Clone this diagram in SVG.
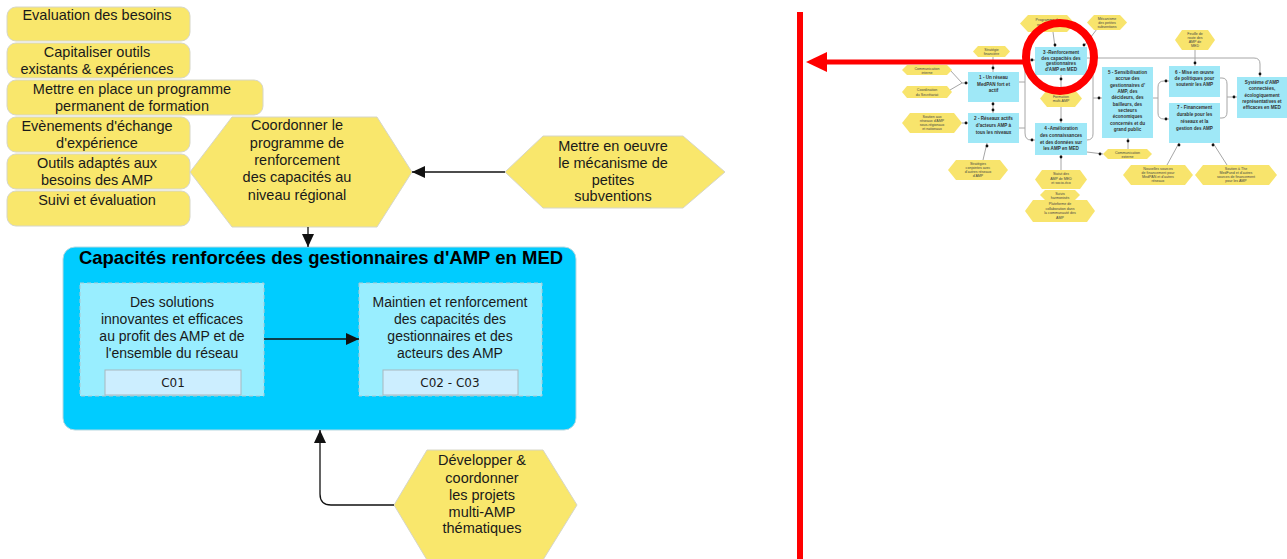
<svg xmlns="http://www.w3.org/2000/svg" width="1287" height="559" viewBox="0 0 1287 559">
<style>
.y{fill:#f9e76c;stroke:#d6d6c8;stroke-width:1}
.t{font-family:"Liberation Sans",Arial,sans-serif;font-size:14.5px;fill:#1a1a1a;text-anchor:middle}
.ti{font-size:14px}
.lb{font-family:"DejaVu Sans",Verdana,sans-serif;font-size:12px;fill:#1a1a1a;text-anchor:middle}
.ln{stroke:#111;stroke-width:1.3;fill:none}
.tb{fill:#9fe8f7}
.th{fill:#f8e46c}
.tl{stroke:#a6a6a6;stroke-width:1;fill:none}
.tt{font-family:"Liberation Sans",Arial,sans-serif;font-size:3.6px;fill:#444;text-anchor:middle}
.tx{font-family:"Liberation Sans",Arial,sans-serif;font-size:4.6px;font-weight:bold;fill:#333;text-anchor:middle}
.dot{fill:#111}
.red{stroke:#ff0000;fill:none}
</style>
<defs>
<marker id="ah" markerUnits="userSpaceOnUse" markerWidth="14" markerHeight="12" refX="13" refY="6" orient="auto">
<path d="M0,0 L13,6 L0,12 z" fill="#111"/>
</marker>
</defs>
<rect width="1287" height="559" fill="#ffffff"/>

<!-- list boxes -->
<g id="n-evaluation"><rect class="y" x="7" y="7" width="183" height="34" rx="9"/><text class="t" x="97" y="20">Evaluation des besoins</text></g>
<g id="n-capitaliser"><rect class="y" x="7" y="43" width="183" height="35" rx="9"/><text class="t" x="97" y="57">Capitaliser outils</text><text class="t" x="97" y="74">existants &amp; expériences</text></g>
<g id="n-programme"><rect class="y" x="7" y="80" width="256" height="35" rx="9"/><text class="t" x="132" y="94">Mettre en place un programme</text><text class="t" x="132" y="111">permanent de formation</text></g>
<g id="n-evenements"><rect class="y" x="7" y="117" width="183" height="35" rx="9"/><text class="t" x="97" y="131">Evènements d'échange</text><text class="t" x="97" y="148">d'expérience</text></g>
<g id="n-outils"><rect class="y" x="7" y="154" width="183" height="35" rx="9"/><text class="t" x="97" y="168">Outils adaptés aux</text><text class="t" x="97" y="185">besoins des AMP</text></g>
<g id="n-suivi"><rect class="y" x="7" y="191" width="183" height="35" rx="9"/><text class="t" x="97" y="205">Suivi et évaluation</text></g>

<!-- hexagons -->
<g id="n-coordonner"><polygon class="y" points="190,172 232,117 377,117 412,172 377,227 232,227"/>
<text class="t" x="297" y="130">Coordonner le</text><text class="t" x="297" y="148">programme de</text><text class="t" x="297" y="165">renforcement</text><text class="t" x="297" y="182">des capacités au</text><text class="t" x="297" y="200">niveau régional</text></g>
<g id="n-subventions"><polygon class="y" points="505,172 543,136 683,136 725,172 683,208 543,208"/>
<text class="t" x="613" y="151">Mettre en oeuvre</text><text class="t" x="613" y="168">le mécanisme de</text><text class="t" x="613" y="185">petites</text><text class="t" x="613" y="201">subventions</text></g>
<g id="n-developper"><polygon class="y" points="394,505 427,450 543,450 577,505 543,560 427,560"/>
<text class="t" x="482" y="465">Développer &amp;</text><text class="t" x="482" y="483">coordonner</text><text class="t" x="482" y="500">les projets</text><text class="t" x="482" y="517">multi-AMP</text><text class="t" x="482" y="533">thématiques</text></g>

<!-- main container -->
<g id="n-capacites">
<rect x="63" y="247" width="513" height="183" rx="12" fill="#00ccff" stroke="#b8d8e0" stroke-width="1"/>
<text class="t" x="321" y="264" style="font-size:18.5px;font-weight:bold;fill:#000">Capacités renforcées des gestionnaires d'AMP en MED</text>
</g>
<g id="n-solutions">
<rect x="80" y="283" width="184" height="113" fill="#99eeff" stroke="#b0c8d0" stroke-dasharray="4,3"/>
<text class="t ti" x="172" y="307">Des solutions</text><text class="t ti" x="172" y="324">innovantes et efficaces</text><text class="t ti" x="172" y="341">au profit des AMP et de</text><text class="t ti" x="172" y="358">l'ensemble du réseau</text>
<rect x="105" y="370" width="136" height="25" fill="#cceeff" stroke="#a8b8c0"/>
<text class="lb" x="173" y="387">C01</text>
</g>
<g id="n-maintien">
<rect x="359" y="283" width="183" height="113" fill="#99eeff" stroke="#b0c8d0" stroke-dasharray="4,3"/>
<text class="t ti" x="450" y="307">Maintien et renforcement</text><text class="t ti" x="450" y="324">des capacités des</text><text class="t ti" x="450" y="341">gestionnaires et des</text><text class="t ti" x="450" y="358">acteurs des AMP</text>
<rect x="383" y="370" width="135" height="25" fill="#cceeff" stroke="#a8b8c0"/>
<text class="lb" x="450" y="387">C02 - C03</text>
</g>

<!-- connectors -->
<g id="connectors">
<line class="ln" x1="505" y1="172" x2="412" y2="172" marker-end="url(#ah)"/>
<line class="ln" x1="308" y1="227" x2="308" y2="247" marker-end="url(#ah)"/>
<line class="ln" x1="264" y1="339" x2="359" y2="339" marker-end="url(#ah)"/>
<path class="ln" d="M394,505 H331 Q320,505 320,494 V430" marker-end="url(#ah)"/>
</g>

<!-- thumbnail overview -->
<g id="thumbnail">
<g id="thumb-connectors">
<path class="tl" d="M1053,32 L1055,47 M1097,29 L1084,46 M993,57 V72 M950,70 L962,83 H968 M950,90 L962,83 M993,102 V113 M962,123 H968 M983,160 L987,143"/>
<path class="tl" d="M1019,82 H1025 M1019,128 H1025 M1025,133 V66 Q1025,60 1031,60 H1035 M1025,133 Q1025,140 1031,140 H1035"/>
<path class="tl" d="M1061,90 V75 M1061,107 V123 M1087,58 H1254 Q1260,58 1260,64 V77 M1195,50 V66"/>
<path class="tl" d="M1093,58 V134 Q1093,140 1087,140 M1093,98 H1102"/>
<path class="tl" d="M1153,98 H1158 M1158,113 V87 Q1158,81 1164,81 H1169 M1158,113 Q1158,119 1164,119 H1169"/>
<path class="tl" d="M1220,78 H1222 Q1227,78 1227,84 V112 Q1227,118 1222,118 H1220 M1227,97 H1237"/>
<path class="tl" d="M1128,149 V138 M1087,152 L1103,154 M1061,170 V155 M1167,165 L1179,143 M1227,165 L1213,143"/>
<circle class="dot" cx="1055" cy="45" r="1.4"/><circle class="dot" cx="1084" cy="45" r="1.4"/><circle class="dot" cx="993" cy="68" r="1.4"/>
<circle class="dot" cx="966" cy="83" r="1.4"/><circle class="dot" cx="993" cy="104" r="1.4"/><circle class="dot" cx="993" cy="110" r="1.4"/>
<circle class="dot" cx="966" cy="123" r="1.4"/><circle class="dot" cx="987" cy="146" r="1.4"/><circle class="dot" cx="1032" cy="60" r="1.4"/>
<circle class="dot" cx="1032" cy="140" r="1.4"/><circle class="dot" cx="1061" cy="79" r="1.4"/><circle class="dot" cx="1061" cy="120" r="1.4"/>
<circle class="dot" cx="1260" cy="74" r="1.4"/><circle class="dot" cx="1195" cy="63" r="1.4"/><circle class="dot" cx="1099" cy="98" r="1.4"/>
<circle class="dot" cx="1166" cy="81" r="1.4"/><circle class="dot" cx="1166" cy="119" r="1.4"/><circle class="dot" cx="1234" cy="97" r="1.4"/>
<circle class="dot" cx="1128" cy="141" r="1.4"/><circle class="dot" cx="1100" cy="154" r="1.4"/><circle class="dot" cx="1061" cy="157" r="1.4"/>
<circle class="dot" cx="1179" cy="145" r="1.4"/><circle class="dot" cx="1213" cy="145" r="1.4"/>
</g>
<g id="thumb-b1"><rect class="tb" x="968" y="72" width="51" height="30"/><text class="tx" x="993.5" y="79">1 - Un réseau</text><text class="tx" x="993.5" y="85.5">MedPAN fort et</text><text class="tx" x="993.5" y="92">actif</text></g>
<g id="thumb-b2"><rect class="tb" x="968" y="113" width="51" height="30"/><text class="tx" x="993.5" y="120">2 - Réseaux actifs</text><text class="tx" x="993.5" y="127">d'acteurs AMP à</text><text class="tx" x="993.5" y="134">tous les niveaux</text></g>
<g id="thumb-b3"><rect class="tb" x="1035" y="47" width="52" height="28"/><text class="tx" x="1061" y="54">3 -Renforcement</text><text class="tx" x="1061" y="59.5">des capacités des</text><text class="tx" x="1061" y="65">gestionnaires</text><text class="tx" x="1061" y="71">d'AMP en MED</text></g>
<g id="thumb-b4"><rect class="tb" x="1035" y="123" width="52" height="32"/><text class="tx" x="1061" y="130">4 -Amélioration</text><text class="tx" x="1061" y="137">des connaissances</text><text class="tx" x="1061" y="144">et des données sur</text><text class="tx" x="1061" y="150">les AMP en MED</text></g>
<g id="thumb-b5"><rect class="tb" x="1102" y="67" width="51" height="71"/>
<text class="tx" x="1127.5" y="74">5 - Sensibilisation</text><text class="tx" x="1127.5" y="80.3">accrue des</text><text class="tx" x="1127.5" y="86.6">gestionnaires d'</text><text class="tx" x="1127.5" y="93">AMP, des</text><text class="tx" x="1127.5" y="99.3">décideurs, des</text><text class="tx" x="1127.5" y="105.6">bailleurs, des</text><text class="tx" x="1127.5" y="112">secteurs</text><text class="tx" x="1127.5" y="118.3">économiques</text><text class="tx" x="1127.5" y="124.6">concernés et du</text><text class="tx" x="1127.5" y="131">grand public</text></g>
<g id="thumb-b6"><rect class="tb" x="1169" y="66" width="51" height="31"/><text class="tx" x="1194.5" y="74">6 - Mise en œuvre</text><text class="tx" x="1194.5" y="80">de politiques pour</text><text class="tx" x="1194.5" y="86">soutenir les AMP</text></g>
<g id="thumb-b7"><rect class="tb" x="1169" y="103" width="51" height="40"/><text class="tx" x="1194.5" y="109">7 - Financement</text><text class="tx" x="1194.5" y="116">durable pour les</text><text class="tx" x="1194.5" y="123">réseaux et la</text><text class="tx" x="1194.5" y="130">gestion des AMP</text></g>
<g id="thumb-sys"><rect class="tb" x="1237" y="77" width="50" height="41"/><text class="tx" x="1262" y="84">Système d'AMP</text><text class="tx" x="1262" y="90">connectées,</text><text class="tx" x="1262" y="97">écologiquement</text><text class="tx" x="1262" y="103">représentatives et</text><text class="tx" x="1262" y="109">efficaces en MED</text></g>

<g id="thumb-h1"><polygon class="th" points="1020,23.5 1028,15 1067,15 1075,23.5 1067,32 1028,32"/><text class="tt" x="1047.5" y="21">Programme de</text><text class="tt" x="1047.5" y="26">renforcement</text></g>
<g id="thumb-h2"><polygon class="th" points="1087,22.5 1094,15 1120,15 1127,22.5 1120,30 1094,30"/><text class="tt" x="1107" y="19.5">Mécanisme</text><text class="tt" x="1107" y="23.5">des petites</text><text class="tt" x="1107" y="27.5">subventions</text></g>
<g id="thumb-h3"><polygon class="th" points="973,51.5 978,46 1005,46 1010,51.5 1005,57 978,57"/><text class="tt" x="991.5" y="50.5">Stratégie</text><text class="tt" x="991.5" y="55">financière</text></g>
<g id="thumb-h4"><polygon class="th" points="902,70 907,65 947,65 952,70 947,75 907,75"/><text class="tt" x="927" y="69.5">Communication</text><text class="tt" x="927" y="73.5">interne</text></g>
<g id="thumb-h5"><polygon class="th" points="902,92 907,86 947,86 952,92 947,98 907,98"/><text class="tt" x="927" y="91">Coordination</text><text class="tt" x="927" y="95.5">du Secrétariat</text></g>
<g id="thumb-h6"><polygon class="th" points="1040,98.5 1047,90 1075,90 1082,98.5 1075,107 1047,107"/><text class="tt" x="1061" y="97.5">Formation</text><text class="tt" x="1061" y="102">multi-AMP</text></g>
<g id="thumb-h7"><polygon class="th" points="1175,40 1182,30 1208,30 1215,40 1208,50 1182,50"/><text class="tt" x="1195" y="35">Feuille de</text><text class="tt" x="1195" y="39">route des</text><text class="tt" x="1195" y="43">AMP de</text><text class="tt" x="1195" y="47">MED</text></g>
<g id="thumb-h8"><polygon class="th" points="902,123 910,113 954,113 962,123 954,133 910,133"/><text class="tt" x="932" y="118">Soutien aux</text><text class="tt" x="932" y="122">réseaux d'AMP</text><text class="tt" x="932" y="126">sous-régionaux</text><text class="tt" x="932" y="130">et nationaux</text></g>
<g id="thumb-h9"><polygon class="th" points="948,170 956,160 1000,160 1008,170 1000,180 956,180"/><text class="tt" x="978" y="165">Stratégies</text><text class="tt" x="978" y="169">conjointes avec</text><text class="tt" x="978" y="173">d'autres réseaux</text><text class="tt" x="978" y="177">d'AMP</text></g>
<g id="thumb-h10"><polygon class="th" points="1103,154 1108,149 1147,149 1152,154 1147,159 1108,159"/><text class="tt" x="1127.5" y="153.5">Communication</text><text class="tt" x="1127.5" y="157.5">externe</text></g>
<g id="thumb-h11"><polygon class="th" points="1035,179.5 1042,170 1080,170 1087,179.5 1080,189 1042,189"/><text class="tt" x="1061" y="175">Statut des</text><text class="tt" x="1061" y="179.5">AMP de MED</text><text class="tt" x="1061" y="184">et socio-éco</text></g>
<g id="thumb-h12"><polygon class="th" points="1040,195 1045,190 1075,190 1080,195 1075,200 1045,200"/><text class="tt" x="1060" y="194.5">Suivis</text><text class="tt" x="1060" y="198.5">harmonisés</text></g>
<g id="thumb-h13"><polygon class="th" points="1025,211 1033,200 1087,200 1095,211 1087,222 1033,222"/><text class="tt" x="1060" y="205">Plateforme de</text><text class="tt" x="1060" y="209.5">collaboration dans</text><text class="tt" x="1060" y="214">la communauté des</text><text class="tt" x="1060" y="218.5">AMP</text></g>
<g id="thumb-h14"><polygon class="th" points="1123,175 1131,165 1185,165 1193,175 1185,185 1131,185"/><text class="tt" x="1158" y="170">Nouvelles sources</text><text class="tt" x="1158" y="174">de financement pour</text><text class="tt" x="1158" y="178">MedPAN et d'autres</text><text class="tt" x="1158" y="182">réseaux</text></g>
<g id="thumb-h15"><polygon class="th" points="1195,175 1203,165 1269,165 1277,175 1269,185 1203,185"/><text class="tt" x="1236" y="170">Soutien à The</text><text class="tt" x="1236" y="174">MedFund et d'autres</text><text class="tt" x="1236" y="178">sources de financement</text><text class="tt" x="1236" y="182">pour les AMP</text></g>
</g>

<!-- red highlight -->
<g id="highlight">
<line class="red" x1="800" y1="12" x2="800" y2="559" stroke-width="6"/>
<line class="red" x1="1024" y1="62" x2="824" y2="62" stroke-width="5"/>
<polygon points="806,62 827,52 827,72" fill="#ff0000"/>
<circle class="red" cx="1060" cy="57" r="34" stroke-width="8"/>
</g>
</svg>
